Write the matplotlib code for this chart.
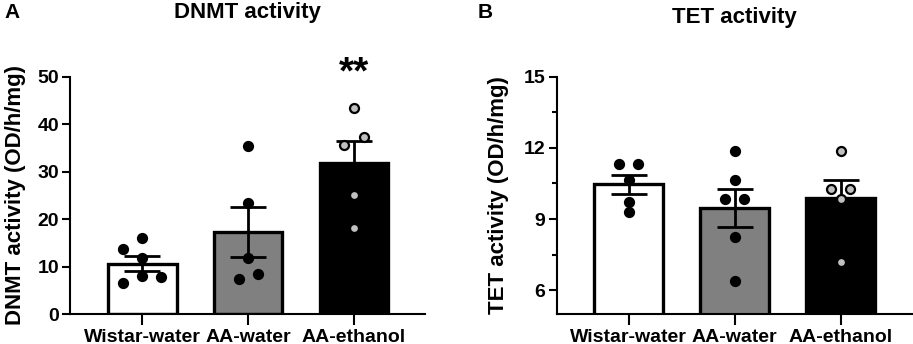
import matplotlib
matplotlib.use("Agg")
import matplotlib.pyplot as plt
import numpy as np

plt.rcParams['font.family'] = ['Liberation Sans', 'DejaVu Sans']
plt.rcParams['font.weight'] = 'bold'

groups = ["Wistar-water", "AA-water", "AA-ethanol"]
bar_colors = ["#ffffff", "#808080", "#000000"]
point_colors = ["#000000", "#000000", "#c0c0c0"]

# DNMT activity (OD/h/mg)
dnmt_mean = [10.64, 17.3, 31.96]
dnmt_sem = [1.55, 5.35, 4.55]
dnmt_points = [
    [13.76, 16.0, 11.87, 6.46, 8.0, 7.72],
    [35.5, 23.5, 11.9, 7.3, 8.4],
    [43.5, 35.7, 37.3, 25.1, 18.2],
]
dnmt_offsets = [
    [-2, 0, 0, -2, 0, 2],
    [0, 0, 0, -1, 1],
    [0, -1, 1, 0, 0],
]

# TET activity (OD/h/mg)
tet_mean = [10.46, 9.47, 9.88]
tet_sem = [0.41, 0.79, 0.77]
tet_points = [
    [11.31, 11.31, 10.65, 9.71, 9.31],
    [11.85, 10.65, 9.85, 9.85, 8.26, 6.38],
    [11.85, 10.26, 10.26, 9.85, 7.19],
]
tet_offsets = [
    [-1, 1, 0, 0, 0],
    [0, 0, -1, 1, 0, 0],
    [0, -1, 1, 0, 0],
]

fig = plt.figure(figsize=(9.13, 3.44), dpi=100)
axA = fig.add_axes([0.0767, 0.0872, 0.3888, 0.689])
axB = fig.add_axes([0.6097, 0.0872, 0.3889, 0.690])

def draw(ax, means, sems, pts, offs, ylim, yticks, minor=None):
    x = np.arange(len(groups))
    ax.bar(x, means, width=0.65, color=bar_colors, edgecolor='black',
           linewidth=2.4, zorder=2)
    for i in range(len(groups)):
        ax.errorbar(x[i], means[i], yerr=sems[i], fmt='none', ecolor='black',
                    elinewidth=2.0, capsize=13, capthick=2.0, zorder=3)
        px = x[i] + np.array(offs[i]) * 0.09
        ax.scatter(px, pts[i], s=42, color=point_colors[i], edgecolor='black',
                   linewidth=1.6, zorder=4)
    ax.set_xlim(-0.68, 2.67)
    ax.set_ylim(*ylim)
    ax.set_yticks(yticks)
    if minor is not None:
        ax.set_yticks(minor, minor=True)
    ax.set_xticks(x)
    ax.set_xticklabels(groups, fontsize=14, fontweight='bold')
    ax.tick_params(axis='both', which='major', length=6, width=1.5,
                   labelsize=14, pad=2)
    ax.tick_params(axis='x', which='major', length=8, pad=3)
    ax.tick_params(axis='y', which='minor', length=3.5, width=1.5)
    for lab in ax.get_yticklabels():
        lab.set_fontweight('bold')
    for s in ['top', 'right']:
        ax.spines[s].set_visible(False)
    for s in ['left', 'bottom']:
        ax.spines[s].set_linewidth(1.5)

draw(axA, dnmt_mean, dnmt_sem, dnmt_points, dnmt_offsets, (0, 50),
     [0, 10, 20, 30, 40, 50])
draw(axB, tet_mean, tet_sem, tet_points, tet_offsets, (5, 15),
     [6, 9, 12, 15], minor=[7.5, 10.5, 13.5])

axA.set_ylabel("DNMT activity (OD/h/mg)", fontsize=16, fontweight='bold', labelpad=8)
axB.set_ylabel("TET activity (OD/h/mg)", fontsize=16, fontweight='bold', labelpad=11)

axA.text(2, 54.5, "**", ha='center', va='top', fontsize=28, fontweight='bold')

fig.text(0.271, 0.965, "DNMT activity", ha='center', va='center', fontsize=16, fontweight='bold')
fig.text(0.804, 0.95, "TET activity", ha='center', va='center', fontsize=16, fontweight='bold')
fig.text(0.005, 0.965, "A", ha='left', va='center', fontsize=15, fontweight='bold')
fig.text(0.523, 0.965, "B", ha='left', va='center', fontsize=15, fontweight='bold')

fig.savefig("out.png", dpi=100)
